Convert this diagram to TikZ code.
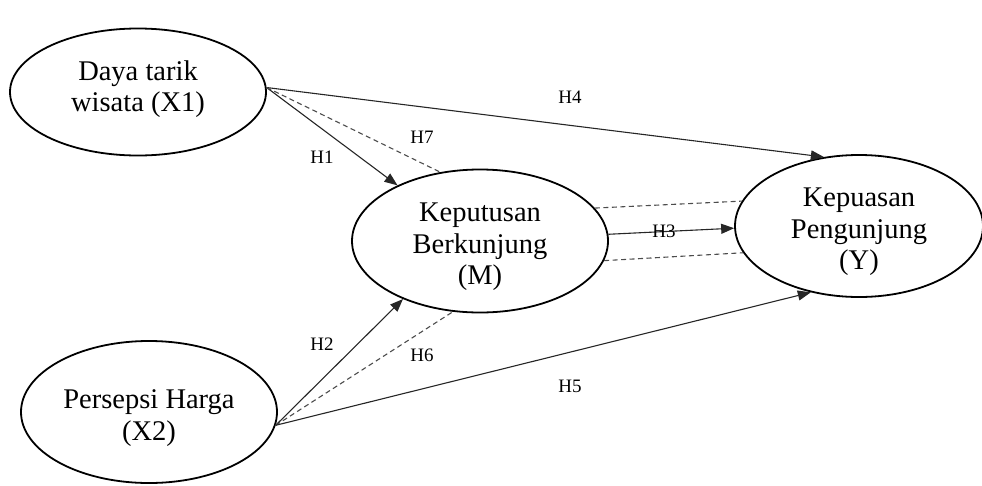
\documentclass[tikz,border=0pt]{standalone}
\usepackage{fontspec}
\setmainfont{Liberation Serif}
\usetikzlibrary{shapes.geometric,arrows.meta}
\tikzset{
  var/.style={draw, line width=1.8pt, ellipse, inner sep=0pt},
  vtext/.style={align=center, inner sep=0pt, font=\fontsize{28.5}{31.5}\selectfont},
  path/.style={line width=1.1pt, draw=black!85, -{Triangle[length=13pt,width=10pt]}},
  ind/.style={line width=1.1pt, draw=black!70, dash pattern=on 5pt off 3.5pt},
  hlab/.style={font=\fontsize{19}{22}\selectfont, inner sep=1pt}
}
\begin{document}
\begin{tikzpicture}[x=1pt,y=-1pt]
\useasboundingbox (0,0) rectangle (982,485);
\node[var, minimum width=256pt, minimum height=127pt] (x1) at (138,92) {};
\node[var, minimum width=256pt, minimum height=143pt] (m) at (480,241) {};
\node[var, minimum width=256pt, minimum height=142pt] (x2) at (149,412) {};
\node[var, minimum width=248pt, minimum height=142pt] (y) at (859,226) {};
\node[vtext] (x1t) at (138,89) {Daya tarik\\wisata (X1)};
\node[vtext] (mt) at (480,247) {Keputusan\\Berkunjung\\(M)};
\node[vtext] (x2t) at (149,418) {Persepsi Harga\\(X2)};
\node[vtext] (yt) at (859,232) {Kepuasan\\Pengunjung\\(Y)};

\draw[path] (x1.2) -- (y.117);
\draw[path] (x1.2) -- (m.146);
\draw[ind] (x1.2) -- (m.120);
\draw[path] (m.3.6) -- (y.181);
\draw[ind] (m.16.7) -- (y.168);
\draw[ind] (m.-9.7) -- (y.193);
\draw[path] (x2.354) -- (m.217);
\draw[ind] (x2.354) -- (m.249);
\draw[path] (x2.354) -- (y.234);

\node[hlab] (h4) at (570,97) {H4};
\node[hlab] (h7) at (422,137) {H7};
\node[hlab] (h1) at (322,157) {H1};
\node[hlab] (h3) at (664,231) {H3};
\node[hlab] (h2) at (322,344) {H2};
\node[hlab] (h6) at (422,355) {H6};
\node[hlab] (h5) at (570,386) {H5};
\end{tikzpicture}
\end{document}
